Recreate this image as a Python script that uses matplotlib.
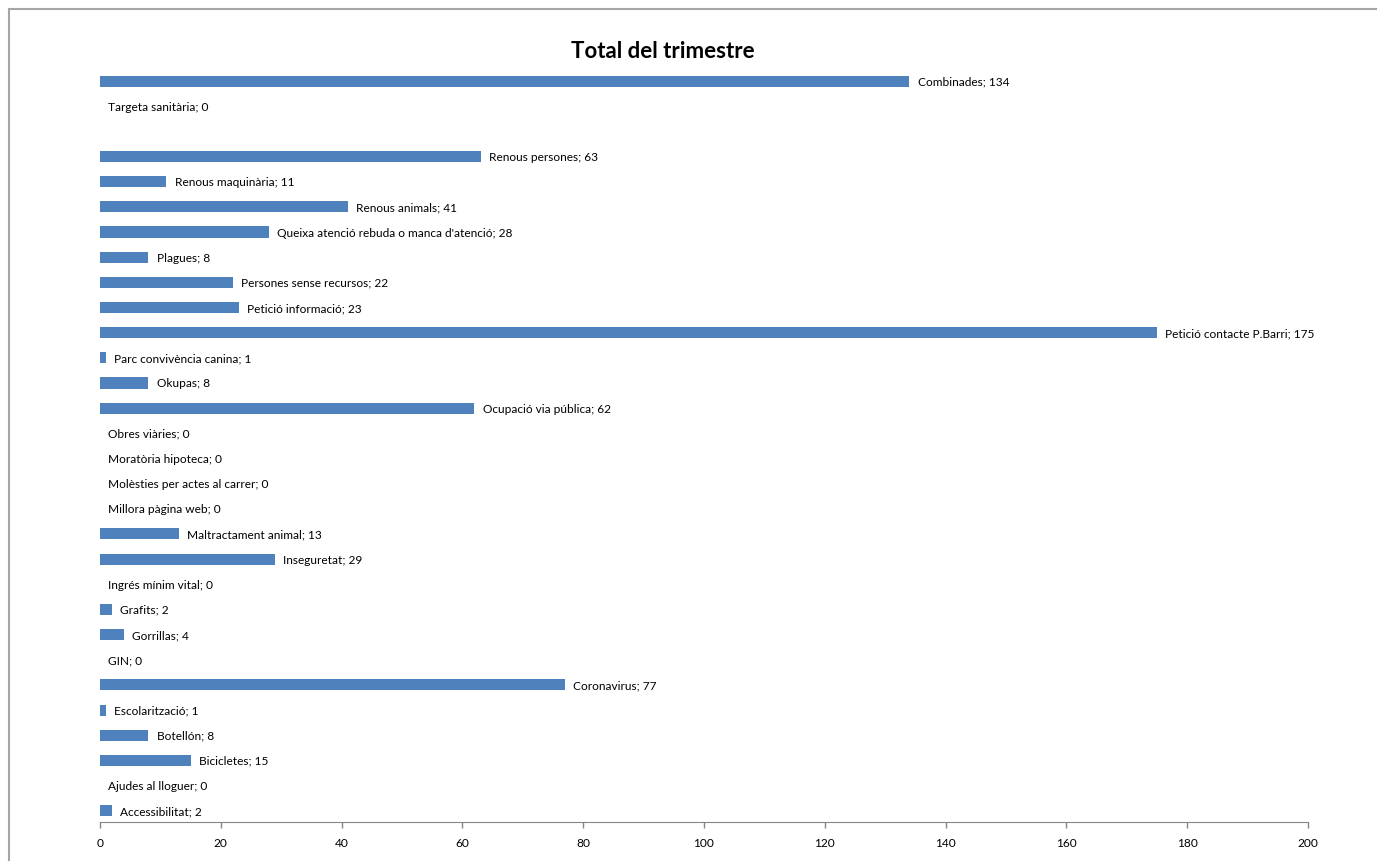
import numpy as np
import matplotlib.pyplot as plt
from matplotlib.lines import Line2D

plt.rcParams['font.family'] = ['Lato', 'DejaVu Sans']

# categories listed bottom -> top (as they appear on the y axis)
categories = [
    "Accessibilitat", "Ajudes al lloguer", "Bicicletes", "Botellón",
    "Escolarització", "Coronavirus", "GIN", "Gorrillas", "Grafits",
    "Ingrés mínim vital", "Inseguretat", "Maltractament animal",
    "Millora pàgina web", "Molèsties per actes al carrer",
    "Moratòria hipoteca", "Obres viàries", "Ocupació via pública",
    "Okupas", "Parc convivència canina", "Petició contacte P.Barri",
    "Petició informació", "Persones sense recursos", "Plagues",
    "Queixa atenció rebuda o manca d'atenció", "Renous animals",
    "Renous maquinària", "Renous persones", "", "Targeta sanitària",
    "Combinades",
]
values = [
    2, 0, 15, 8, 1, 77, 0, 4, 2, 0, 29, 13, 0, 0, 0, 0, 62, 8, 1, 175,
    23, 22, 8, 28, 41, 11, 63, np.nan, 0, 134,
]
xticks = [0, 20, 40, 60, 80, 100, 120, 140, 160, 180, 200]

fig = plt.figure(figsize=(13.77, 8.62), dpi=100)
ax = fig.add_axes([100 / 1377, 1 - 823 / 862, 1208 / 1377, (823 - 69.5) / 862])

y = np.arange(len(categories))
ax.barh(y, values, height=0.44, color='#4F81BD')

for yi, (name, v) in enumerate(zip(categories, values)):
    if np.isnan(v):
        continue
    ax.annotate(f"{name}; {v}", (v, yi), xytext=(6, 0), textcoords='offset points',
                ha='left', va='center', fontsize=8.6, color='black')

ax.set_xlim(0, 200)
ax.set_ylim(-0.45, len(categories) - 0.5)
ax.set_xticks(xticks)
ax.set_yticks([])
for s in ['left', 'right', 'top']:
    ax.spines[s].set_visible(False)
ax.spines['bottom'].set_color('#868686')
ax.tick_params(axis='x', direction='out', length=4, width=1, color='#868686',
               labelsize=8.6, pad=7)

fig.suptitle("Total del trimestre", x=663 / 1377, y=1 - 52 / 862, va='center',
             fontsize=16, fontweight='bold')

# chart area frame (partly cut off at right/bottom)
fig.add_artist(Line2D([8.5 / 1377, 8.5 / 1377], [0, 1 - 9.5 / 862],
                      transform=fig.transFigure, color='#A6A6A6', lw=1.5))
fig.add_artist(Line2D([8.5 / 1377, 1], [1 - 9.5 / 862, 1 - 9.5 / 862],
                      transform=fig.transFigure, color='#A6A6A6', lw=1.5))

fig.savefig('out.png', dpi=100)
